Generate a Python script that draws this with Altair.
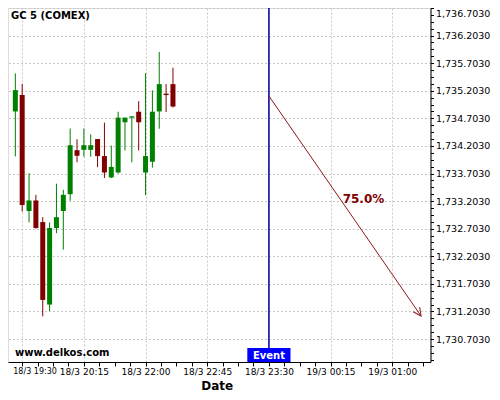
import math
import altair as alt
import pandas as pd

# ---------------- data ----------------
candle_idx = list(range(24))
opens = [1734.828, 1735.126, 1733.024, 1733.215, 1732.823, 1731.328, 1732.716, 1733.024,
         1733.328, 1734.126, 1734.132, 1734.132, 1734.328, 1734.019, 1733.632, 1733.721,
         1734.632, 1734.716, 1734.823, 1733.721, 1733.917, 1734.828, 1735.150, 1735.323]
highs = [1735.519, 1735.328, 1733.710, 1733.317, 1732.912, 1732.817, 1733.519, 1733.407,
         1734.519, 1734.323, 1734.519, 1734.412, 1734.328, 1734.626, 1734.210, 1734.823,
         1734.716, 1734.740, 1735.014, 1735.519, 1735.210, 1735.907, 1735.323, 1735.621]
lows = [1734.014, 1733.014, 1732.817, 1732.703, 1731.114, 1731.210, 1732.621, 1732.323,
        1733.210, 1733.907, 1734.007, 1734.007, 1733.817, 1733.621, 1733.621, 1733.703,
        1734.121, 1733.907, 1734.121, 1733.310, 1733.810, 1734.514, 1734.817, 1734.899]
closes = [1735.215, 1733.132, 1733.215, 1732.716, 1731.412, 1732.716, 1732.912, 1733.317,
          1734.216, 1734.025, 1734.216, 1734.216, 1734.019, 1733.721, 1733.823, 1734.716,
          1734.716, 1734.740, 1734.632, 1734.019, 1734.823, 1735.323, 1735.125, 1734.917]

x_tick_idx = [1, 10, 19, 28, 37, 46, 55]
x_tick_labels = ["18/3 19:30", "18/3 20:15", "18/3 22:00", "18/3 22:45",
                 "18/3 23:30", "19/3 00:15", "19/3 01:00"]
y_major_ticks = [1730.703, 1731.203, 1731.703, 1732.203, 1732.703, 1733.203, 1733.703,
                 1734.203, 1734.703, 1735.203, 1735.703, 1736.203, 1736.703]

event_idx = 37
event_label = "Event"
arrow_x = [37.0, 59.2]
arrow_y = [1735.108, 1731.121]
pct_label = "75.0%"
pct_pos = (50.8, 1733.24)
instrument = "GC 5 (COMEX)"
site = "www.delkos.com"
x_title = "Date"

# ---------------- layout ----------------
W, H = 422.5, 354
PAD_R = 61.5
PAD_B = 384 - H
XMIN, XMAX = -0.34, 59.85
YMIN, YMAX = 1730.287, 1736.703

GREEN = "#008000"
RED = "#800000"
ARROW = "#8B1A1A"
BLUE = "#0000FF"
EVLINE = "#000099"
FONT = "DejaVu Sans"

# minor ticks (4 subdivisions)
x_vals = sorted(set([round(x_tick_idx[0] + 2.25 * k, 4) for k in range(0, 27)
                     if XMIN <= x_tick_idx[0] + 2.25 * k <= XMAX]))
y_vals = []
for m in y_major_ticks:
    for s in range(-3, 1):
        v = round(m + 0.125 * s, 4)
        if YMIN <= v <= YMAX and v not in y_vals:
            y_vals.append(v)
y_vals = sorted(y_vals)

xt = "[" + ",".join(str(v) for v in x_tick_idx) + "]"
xl = "[" + ",".join("'" + s + "'" for s in x_tick_labels) + "]"
x_major_test = f"indexof({xt}, datum.value) >= 0"
first_test = f"datum.value == {x_tick_idx[0]}"
first_off = -(x_tick_idx[0] - XMIN) * W / (XMAX - XMIN)
yt = "[" + ",".join(repr(round(v, 4)) for v in y_major_ticks) + "]"
y_major_test = f"indexof({yt}, datum.value) >= 0"

x_axis = alt.Axis(
    values=x_vals,
    labelExpr=f"{x_major_test} ? {xl}[indexof({xt}, datum.value)] : ''",
    title=x_title, titleFont=FONT, titleFontSize=12, titleFontWeight="bold",
    titleColor="black", titleX=208.7, titleY=27, titleBaseline="alphabetic",
    labelFont=FONT, labelColor="black", labelPadding=1,
    labelFontSize={"condition": {"test": first_test, "value": 8}, "value": 9},
    labelAlign={"condition": {"test": first_test, "value": "left"}, "value": "center"},
    labelOffset={"condition": {"test": first_test, "value": first_off}, "value": 0},
    labelOverlap=False, labelBound=False,
    domainColor="black", domainWidth=1, tickColor="black", tickSize=4,
    grid=True, gridColor="#c8c8c8", gridDash=[2, 2],
    gridOpacity={"condition": {"test": x_major_test, "value": 1}, "value": 0},
)
y_axis = alt.Axis(
    orient="right", values=y_vals,
    labelExpr=f"{y_major_test} ? format(datum.value, ',.4f') : ''",
    title=None,
    labelFont=FONT, labelFontSize=9.5, labelColor="black", labelPadding=2,
    labelOverlap=False, labelBound=False, labelFlush=True,
    domainColor="black", domainWidth=1, tickColor="black", tickSize=3,
    grid=True, gridColor="#c8c8c8", gridDash=[2, 2],
    gridOpacity={"condition": {"test": y_major_test, "value": 1}, "value": 0},
)
xs = alt.Scale(domain=[XMIN, XMAX], nice=False, zero=False)
ys = alt.Scale(domain=[YMIN, YMAX], nice=False, zero=False)


def X(f):
    return alt.X(f, type="quantitative", scale=xs, axis=x_axis)


def Y(f):
    return alt.Y(f, type="quantitative", scale=ys, axis=y_axis)


candles = pd.DataFrame({"i": candle_idx, "o": opens, "h": highs, "l": lows, "c": closes})
candles["dir"] = ["up" if c >= o else "down" for o, c in zip(opens, closes)]
col = alt.Color("dir:N", scale=alt.Scale(domain=["up", "down"], range=[GREEN, RED]), legend=None)

wicks = alt.Chart(candles).mark_rule(strokeWidth=1).encode(
    x=X("i"), y=Y("l"), y2="h", color=col)
bodies = alt.Chart(candles).mark_bar(size=5, minBandSize=1).encode(
    x=X("i"), y=Y("o"), y2="c", color=col)

ev = pd.DataFrame({"i": [event_idx], "x0": [event_idx - 3.15], "x1": [event_idx + 3.15],
                   "t": [event_label]})
ev_line = alt.Chart(ev).mark_rule(color=EVLINE, strokeWidth=1.5).encode(x=X("i"))
ev_box = alt.Chart(ev).mark_rect(color=BLUE).encode(
    x=X("x0"), x2="x1", y=alt.value(H - 14), y2=alt.value(H))
ev_text = alt.Chart(ev).mark_text(color="white", font=FONT, fontSize=10, fontWeight="bold",
                                  align="center", baseline="alphabetic").encode(
    x=X("i"), y=alt.value(H - 3.3), text="t:N")

arr = pd.DataFrame({"x": arrow_x, "y": arrow_y})
arrow_line = alt.Chart(arr).mark_line(color=ARROW, strokeWidth=1).encode(x=X("x"), y=Y("y"))

dxp = (arrow_x[1] - arrow_x[0]) * W / (XMAX - XMIN)
dyp = (arrow_y[0] - arrow_y[1]) * H / (YMAX - YMIN)
ang = math.degrees(math.atan2(dxp, -dyp)) % 360
head = alt.Chart(arr.iloc[[1]]).mark_point(
    shape="M-0.5,1L0,0L0.5,1", filled=False, size=256, angle=ang,
    color=ARROW, strokeWidth=1, opacity=1).encode(x=X("x"), y=Y("y"))

pct = alt.Chart(pd.DataFrame({"x": [pct_pos[0]], "y": [pct_pos[1]], "t": [pct_label]})).mark_text(
    color=RED, font=FONT, fontSize=12, fontWeight="bold", align="center", baseline="middle").encode(
    x=X("x"), y=Y("y"), text="t:N")

site_t = alt.Chart(pd.DataFrame({"t": [site]})).mark_text(
    color="black", font=FONT, fontSize=10, fontWeight="bold", align="left",
    baseline="alphabetic").encode(x=alt.value(7), y=alt.value(H - 6.3), text="t:N")
inst_t = alt.Chart(pd.DataFrame({"t": [instrument]})).mark_text(
    color="black", font=FONT, fontSize=10, fontWeight="bold", align="left",
    baseline="alphabetic").encode(x=alt.value(3), y=alt.value(11), text="t:N")

chart = alt.layer(
    wicks, bodies, ev_line, ev_box, ev_text, arrow_line, head, pct, site_t, inst_t
).properties(
    width=W, height=H,
    autosize=alt.AutoSizeParams(type="none"),
    padding={"left": 0, "top": 0, "right": PAD_R, "bottom": PAD_B},
).configure_view(stroke="transparent").configure(background="white")

chart.save("out.html", embed_options={"renderer": "svg", "actions": False})
